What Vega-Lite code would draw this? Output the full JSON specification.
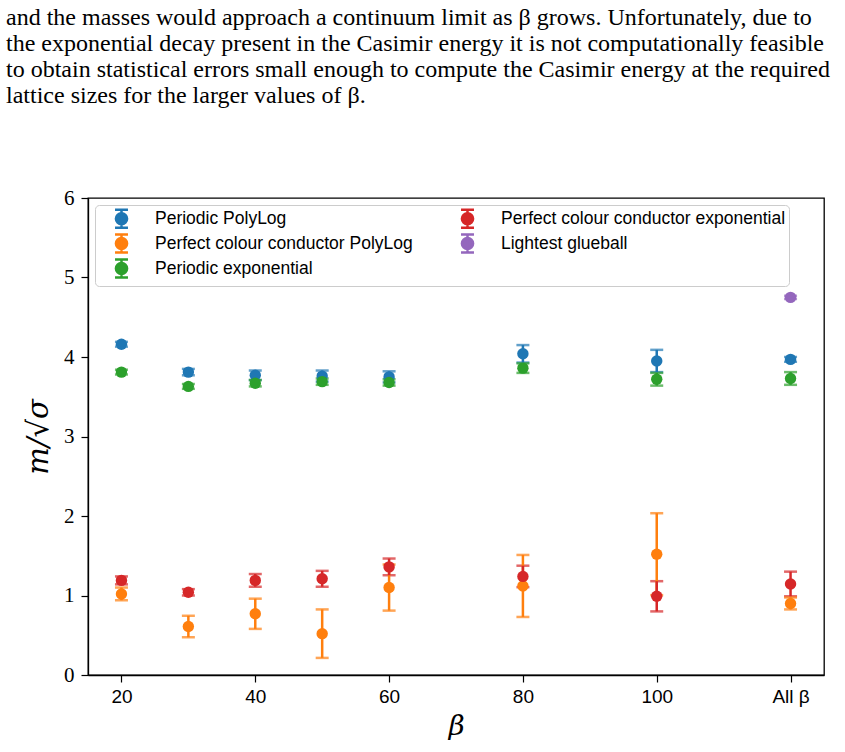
{
  "$schema": "https://vega.github.io/schema/vega-lite/v6.json",
  "width": 736,
  "height": 477,
  "padding": {"left": 6, "top": 6, "right": 0, "bottom": 0},
  "background": "white",
  "title": {
    "text": [
      "and the masses would approach a continuum limit as β grows. Unfortunately, due to",
      "the exponential decay present in the Casimir energy it is not computationally feasible",
      "to obtain statistical errors small enough to compute the Casimir energy at the required",
      "lattice sizes for the larger values of β."
    ],
    "anchor": "start",
    "frame": "group",
    "dx": -82,
    "font": "Liberation Serif",
    "fontSize": 24,
    "fontWeight": "normal",
    "lineHeight": 26,
    "color": "black",
    "offset": 79
  },
  "config": {
    "view": {"stroke": "black", "strokeWidth": 1.3},
    "axis": {
      "grid": false,
      "domainColor": "black",
      "tickColor": "black",
      "labelColor": "black",
      "titleColor": "black",
      "tickSize": 7,
      "tickWidth": 1.2,
      "domainWidth": 1.3
    }
  },
  "data": {
    "values": [
      {"beta": 20, "series": "Periodic PolyLog", "m": 4.16, "err": 0.03},
      {"beta": 30, "series": "Periodic PolyLog", "m": 3.81, "err": 0.04},
      {"beta": 40, "series": "Periodic PolyLog", "m": 3.77, "err": 0.06},
      {"beta": 50, "series": "Periodic PolyLog", "m": 3.76, "err": 0.07},
      {"beta": 60, "series": "Periodic PolyLog", "m": 3.75, "err": 0.07},
      {"beta": 80, "series": "Periodic PolyLog", "m": 4.04, "err": 0.11},
      {"beta": 100, "series": "Periodic PolyLog", "m": 3.95, "err": 0.14},
      {"beta": 120, "series": "Periodic PolyLog", "m": 3.97, "err": 0.03},
      {"beta": 20, "series": "Perfect colour conductor PolyLog", "m": 1.02, "err": 0.08},
      {"beta": 30, "series": "Perfect colour conductor PolyLog", "m": 0.61, "err": 0.135},
      {"beta": 40, "series": "Perfect colour conductor PolyLog", "m": 0.77, "err": 0.19},
      {"beta": 50, "series": "Perfect colour conductor PolyLog", "m": 0.52, "err": 0.305},
      {"beta": 60, "series": "Perfect colour conductor PolyLog", "m": 1.1, "err": 0.29},
      {"beta": 80, "series": "Perfect colour conductor PolyLog", "m": 1.12, "err": 0.39},
      {"beta": 100, "series": "Perfect colour conductor PolyLog", "m": 1.52, "err": 0.515},
      {"beta": 120, "series": "Perfect colour conductor PolyLog", "m": 0.9, "err": 0.075},
      {"beta": 20, "series": "Periodic exponential", "m": 3.81, "err": 0.03},
      {"beta": 30, "series": "Periodic exponential", "m": 3.63, "err": 0.03},
      {"beta": 40, "series": "Periodic exponential", "m": 3.67, "err": 0.04},
      {"beta": 50, "series": "Periodic exponential", "m": 3.69, "err": 0.04},
      {"beta": 60, "series": "Periodic exponential", "m": 3.68, "err": 0.04},
      {"beta": 80, "series": "Periodic exponential", "m": 3.86, "err": 0.06},
      {"beta": 100, "series": "Periodic exponential", "m": 3.72, "err": 0.08},
      {"beta": 120, "series": "Periodic exponential", "m": 3.73, "err": 0.08},
      {"beta": 20, "series": "Perfect colour conductor exponential", "m": 1.19, "err": 0.05},
      {"beta": 30, "series": "Perfect colour conductor exponential", "m": 1.04, "err": 0.04},
      {"beta": 40, "series": "Perfect colour conductor exponential", "m": 1.19, "err": 0.08},
      {"beta": 50, "series": "Perfect colour conductor exponential", "m": 1.21, "err": 0.1},
      {"beta": 60, "series": "Perfect colour conductor exponential", "m": 1.36, "err": 0.105},
      {"beta": 80, "series": "Perfect colour conductor exponential", "m": 1.24, "err": 0.135},
      {"beta": 100, "series": "Perfect colour conductor exponential", "m": 0.99, "err": 0.19},
      {"beta": 120, "series": "Perfect colour conductor exponential", "m": 1.145, "err": 0.155},
      {"beta": 120, "series": "Lightest glueball", "m": 4.75, "err": 0.02}
    ]
  },
  "encoding": {
    "x": {
      "field": "beta",
      "type": "quantitative",
      "scale": {"domain": [15, 125], "nice": false, "zero": false},
      "axis": {
        "values": [20, 40, 60, 80, 100, 120],
        "labelExpr": "datum.value == 120 ? 'All β' : datum.label",
        "labelFont": "Liberation Sans",
        "labelFontSize": 19,
        "labelPadding": 5,
        "title": "β",
        "titleFont": "DejaVu Serif",
        "titleFontStyle": "italic",
        "titleFontWeight": "normal",
        "titleFontSize": 28,
        "titlePadding": 6
      }
    },
    "y": {
      "field": "m",
      "type": "quantitative",
      "scale": {"domain": [0, 6], "nice": false},
      "axis": {
        "values": [0, 1, 2, 3, 4, 5, 6],
        "format": "d",
        "labelFont": "Liberation Serif",
        "labelFontSize": 21,
        "labelPadding": 7,
        "title": "m/√σ",
        "titleFont": "DejaVu Serif",
        "titleFontStyle": "italic",
        "titleFontWeight": "normal",
        "titleFontSize": 29,
        "titlePadding": 10
      }
    },
    "color": {
      "field": "series",
      "type": "nominal",
      "scale": {
        "domain": ["Periodic PolyLog", "Perfect colour conductor PolyLog", "Periodic exponential", "Perfect colour conductor exponential", "Lightest glueball"],
        "range": ["#1f77b4", "#ff7f0e", "#2ca02c", "#d62728", "#9467bd"]
      },
      "legend": {
        "title": null,
        "orient": "top-left",
        "columns": 2,
        "offset": 7,
        "padding": 3,
        "strokeColor": "#cccccc",
        "cornerRadius": 4,
        "fillColor": "white",
        "symbolType": "M-0.72,-1H0.72M0,-1V1M-0.72,1H0.72M0.62,0A0.62,0.62,0,1,1,-0.62,0A0.62,0.62,0,1,1,0.62,0Z",
        "symbolSize": 324,
        "symbolStrokeWidth": 2.5,
        "symbolOffset": 13,
        "labelFont": "Liberation Sans",
        "labelFontSize": 17.5,
        "labelColor": "black",
        "labelOffset": 23,
        "labelLimit": 500,
        "rowPadding": -4,
        "columnPadding": 31,
        "encode": {
          "symbols": {
            "update": {
              "fill": {"scale": "color", "field": "value"},
              "stroke": {"scale": "color", "field": "value"},
              "opacity": {"value": 1}
            }
          }
        }
      }
    }
  },
  "layer": [
    {
      "mark": {"type": "errorbar", "ticks": {"size": 13}, "thickness": 2.5},
      "encoding": {
        "yError": {"field": "err"}
      }
    },
    {
      "mark": {"type": "point", "filled": true, "size": 130, "opacity": 1}
    }
  ]
}
